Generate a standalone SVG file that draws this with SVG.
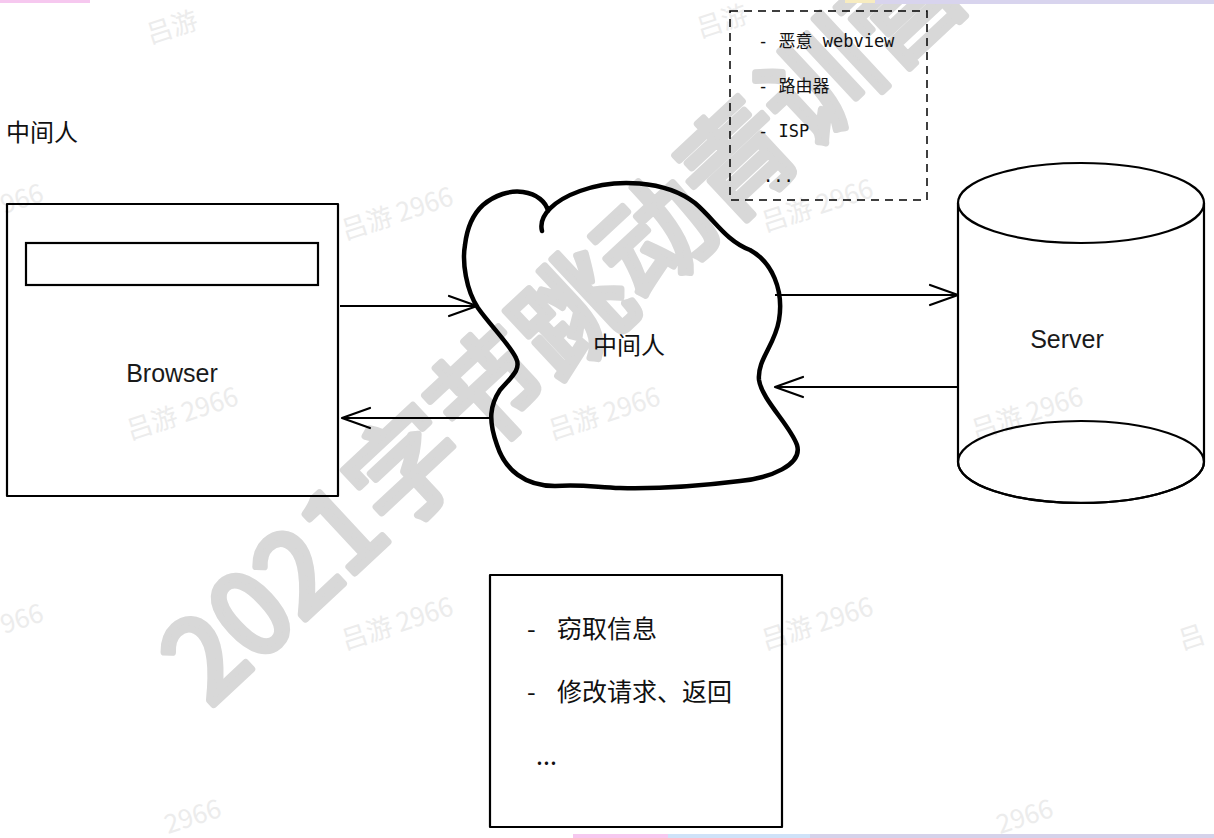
<svg xmlns="http://www.w3.org/2000/svg" width="1214" height="838" viewBox="0 0 1214 838">
  <defs>
    <style>
      .shape { fill: none; stroke: #000000; stroke-width: 2.2; stroke-linejoin: round; }
      .bar { fill: none; stroke: #000000; stroke-width: 2.2; }
      .cloud { fill: none; stroke: #000000; stroke-width: 4.5; stroke-linecap: round; stroke-linejoin: round; }
      .dash { fill: none; stroke: #000000; stroke-width: 1.5; stroke-dasharray: 8 6; }
      .conn { fill: none; stroke: #000000; stroke-width: 2; marker-end: url(#arrow); }
      .hand { font-family: "Liberation Sans", "DejaVu Sans", sans-serif; font-size: 25px; fill: #1a1a1a; }
      .cjk { font-family: "Noto Sans CJK SC", "Noto Sans", sans-serif; fill: #111111; }
      .mono { font-family: "DejaVu Sans Mono", "Liberation Mono", "Noto Sans CJK SC", monospace; font-size: 17px; fill: #111111; }
      .wm { font-family: "Noto Sans CJK SC", sans-serif; font-weight: 400; font-size: 113px; fill: #d8d8d8; stroke: #d8d8d8; stroke-width: 7; stroke-linejoin: round; }
      .wm2 { font-family: "Noto Sans CJK SC", sans-serif; font-size: 26px; fill: #ececec; }
    </style>
    <marker id="arrow" markerUnits="userSpaceOnUse" markerWidth="34" markerHeight="26" refX="31" refY="13" orient="auto">
      <path d="M3 3 L31 13 L3 23" fill="none" stroke="#000000" stroke-width="2.2" stroke-linecap="round" stroke-linejoin="round"/>
    </marker>
  </defs>

  <rect x="0" y="0" width="1214" height="838" fill="#ffffff"/>

  <!-- faint background watermarks -->
  <g id="watermark-small">
    <text class="wm2" transform="translate(345,240) rotate(-18)">吕游 2966</text>
    <text class="wm2" transform="translate(765,232) rotate(-18)">吕游 2966</text>
    <text class="wm2" transform="translate(4,214) rotate(-18)">966</text>
    <text class="wm2" transform="translate(130,440) rotate(-18)">吕游 2966</text>
    <text class="wm2" transform="translate(552,440) rotate(-18)">吕游 2966</text>
    <text class="wm2" transform="translate(975,440) rotate(-18)">吕游 2966</text>
    <text class="wm2" transform="translate(345,650) rotate(-18)">吕游 2966</text>
    <text class="wm2" transform="translate(765,650) rotate(-18)">吕游 2966</text>
    <text class="wm2" transform="translate(4,634) rotate(-18)">966</text>
    <text class="wm2" transform="translate(1182,650) rotate(-18)">吕</text>
    <text class="wm2" transform="translate(150,44) rotate(-18)">吕游</text>
    <text class="wm2" transform="translate(700,38) rotate(-18)">吕游</text>
    <text class="wm2" transform="translate(168,834) rotate(-18)">2966</text>
    <text class="wm2" transform="translate(1000,834) rotate(-18)">2966</text>
  </g>

  <!-- large diagonal watermark -->
  <g id="watermark-large">
    <text class="wm" transform="translate(210,708) rotate(-43)">2021字节跳动青训营</text>
  </g>

  <!-- thin colour strips at the edges -->
  <rect x="0" y="0" width="90" height="3" fill="#f6c8ef"/>
  <rect x="845" y="0" width="30" height="3" fill="#f7ecc0"/>
  <rect x="875" y="0" width="339" height="4" fill="#d8d4ee"/>
  <rect x="573" y="834" width="95" height="4" fill="#f6c8ef"/>
  <rect x="668" y="834" width="142" height="4" fill="#cfe2f8"/>
  <rect x="810" y="834" width="404" height="4" fill="#d5d2ea"/>

  <text class="cjk" x="6" y="141" font-size="24">中间人</text>

  <g id="connectors">
    <path class="conn" d="M340 306 L477 306"/>
    <path class="conn" d="M492 418 L342 418"/>
    <path class="conn" d="M775 295 L958 295"/>
    <path class="conn" d="M958 387 L775 387"/>
  </g>

  <g id="browser">
    <rect class="shape" x="7" y="204" width="331" height="292"/>
    <rect class="bar" x="26" y="243" width="292" height="42"/>
    <text class="hand" x="172" y="382" text-anchor="middle">Browser</text>
  </g>

  <g id="mitm-cloud">
    <path class="cloud" d="M542 231
      C538 215, 555 200, 580 191
      C615 178, 665 180, 695 203
      C715 220, 725 240, 750 250
      C772 262, 784 290, 779 320
      C775 345, 757 360, 759 380
      C762 400, 790 425, 797 445
      C803 465, 770 478, 740 481
      C700 486, 660 489, 620 488
      C595 487, 580 484, 555 486
      C525 486, 505 470, 497 445
      C488 420, 490 405, 500 390
      C510 378, 522 370, 516 358
      C510 345, 490 325, 478 308
      C466 290, 462 262, 465 245
      C467 228, 472 215, 483 205
      C495 195, 510 190, 523 192
      C537 194, 546 202, 548 211"/>
    <text class="cjk" x="629" y="354" font-size="24" text-anchor="middle">中间人</text>
  </g>

  <g id="mitm-list">
    <rect class="dash" x="730" y="11" width="197" height="189"/>
    <text class="mono" x="758" y="47">- 恶意 webview</text>
    <text class="mono" x="758" y="92">- 路由器</text>
    <text class="mono" x="758" y="137">- ISP</text>
    <text class="mono" x="763" y="182">...</text>
  </g>

  <g id="server">
    <path class="shape" d="M958 203 L958 462 A123 41 0 0 0 1204 462 L1204 203"/>
    <ellipse class="shape" cx="1081" cy="462" rx="123" ry="41"/>
    <ellipse class="shape" cx="1081" cy="203" rx="123" ry="40"/>
    <text class="hand" x="1067" y="348" text-anchor="middle">Server</text>
  </g>

  <g id="capabilities">
    <rect class="shape" x="490" y="575" width="292" height="252"/>
    <text class="cjk" font-size="25"><tspan x="527" y="638">-</tspan><tspan x="557" y="638">窃取信息</tspan></text>
    <text class="cjk" font-size="25"><tspan x="527" y="701">-</tspan><tspan x="557" y="701">修改请求、返回</tspan></text>
    <text class="cjk" font-size="25" x="536" y="765">...</text>
  </g>
</svg>
